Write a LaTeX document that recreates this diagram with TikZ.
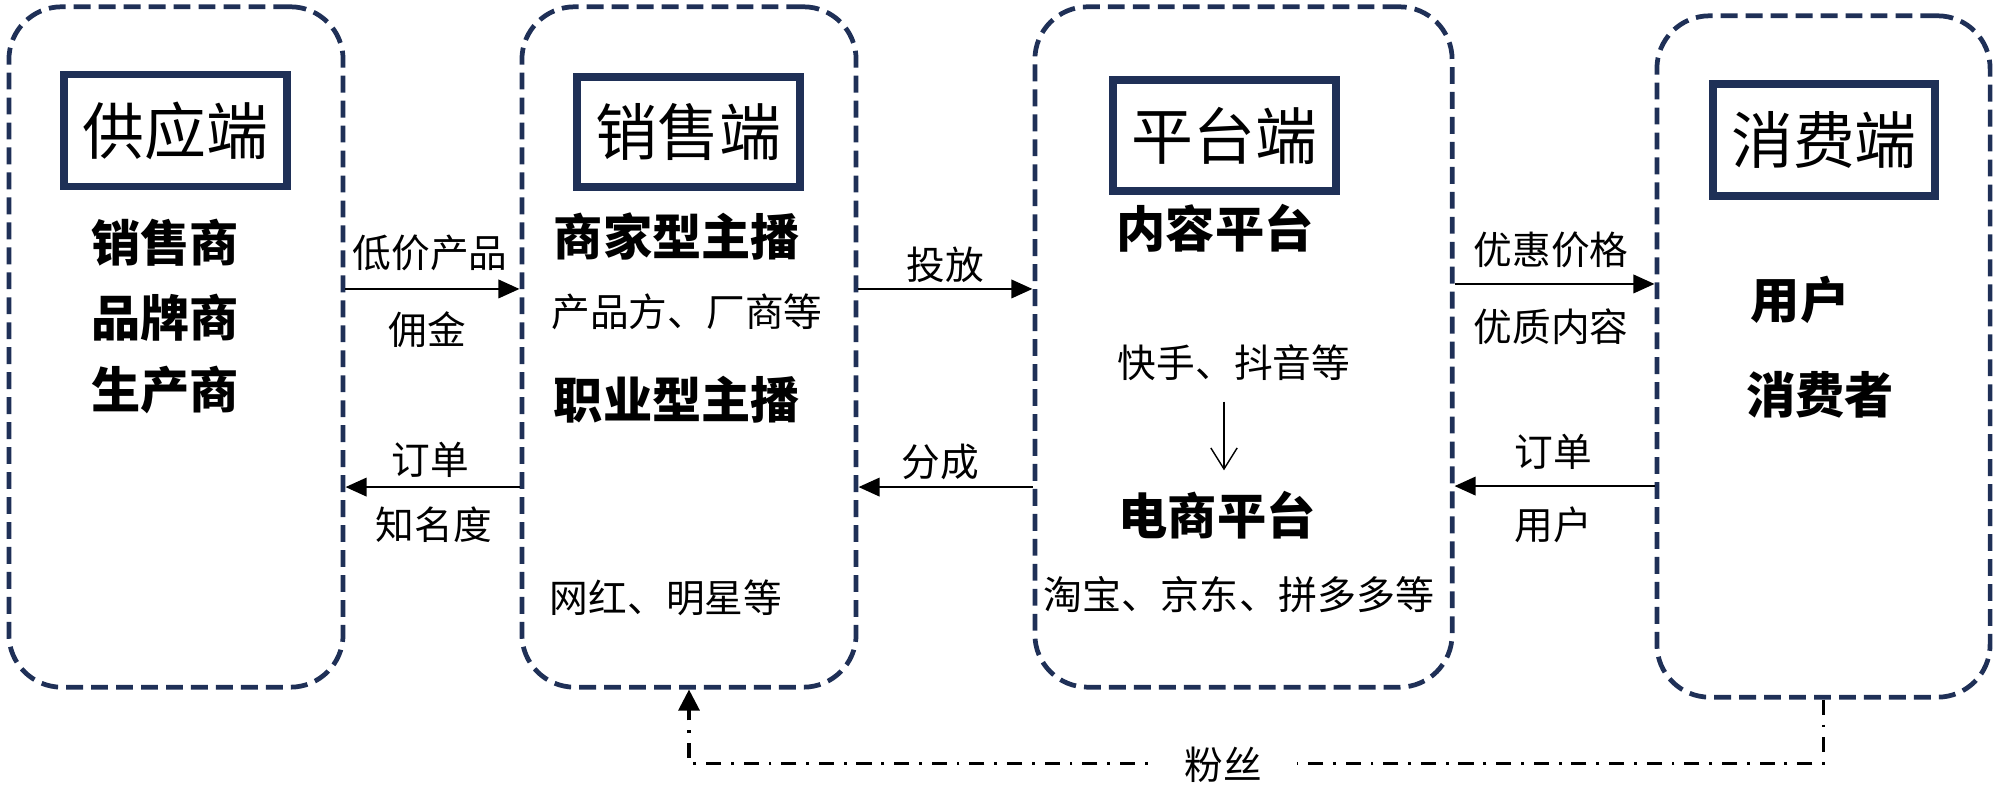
\documentclass[tikz,border=0pt]{standalone}
\usepackage{fontspec}
\setmainfont{Noto Sans CJK SC}
\usetikzlibrary{arrows.meta}
\definecolor{navy}{RGB}{31,48,87}
\tikzset{
  part/.style={draw=navy,line width=1.35pt,dash pattern=on 4.8pt off 2.3pt,rounded corners=15pt,minimum height=6.8cm,inner sep=0pt},
  headbox/.style={draw=navy,line width=2.2pt,minimum width=2.23cm,minimum height=1.12cm,inner sep=0pt,font=\fontsize{17.6}{20}\selectfont},
  item/.style={font=\bfseries\fontsize{14}{16}\selectfont,inner sep=0pt},
  note/.style={font=\fontsize{11}{13}\selectfont,inner sep=0pt},
  flow/.style={-{Triangle[length=6pt,width=5.2pt]},line width=0.8pt},
}
\begin{document}
\begin{tikzpicture}[x=0.01cm,y=-0.01cm]
\useasboundingbox (0,0) rectangle (2000,789);
% four ends
\node[part,minimum width=3.34cm] (supply) at (176,347) {};
\node[part,minimum width=3.34cm] (sale) at (689,347) {};
\node[part,minimum width=4.17cm] (platform) at (1243.5,347) {};
\node[part,minimum width=3.33cm,minimum height=6.81cm] (consume) at (1823.5,356.5) {};
% titles
\node[headbox] (supplyhead) at (175.5,130.5) {供应端};
\node[headbox,minimum height=1.1cm] (salehead) at (688.5,132) {销售端};
\node[headbox,minimum height=1.11cm] (platformhead) at (1224.5,135.5) {平台端};
\node[headbox,minimum width=2.22cm] (consumehead) at (1824,140) {消费端};
% contents
\node[item] (seller) at (165,243) {销售商};
\node[item] (brand) at (165,318) {品牌商};
\node[item] (maker) at (165,390) {生产商};
\node[item] (merchant) at (677,237) {商家型主播};
\node[note] (merchantex) at (687,312) {产品方、厂商等};
\node[item] (pro) at (677,400) {职业型主播};
\node[note] (proex) at (666,598) {网红、明星等};
\node[item] (content) at (1215,228) {内容平台};
\node[note] (contentex) at (1234,363) {快手、抖音等};
\node[item] (ecom) at (1217,515) {电商平台};
\node[note,font=\fontsize{11.1}{13}\selectfont] (ecomex) at (1239,595) {淘宝、京东、拼多多等};
\node[item] (user) at (1800,300) {用户};
\node[item] (buyer) at (1820,395) {消费者};
\draw[line width=0.4pt,-{Straight Barb[length=6pt,width=7.5pt]},shorten <=0.2cm,shorten >=0.2cm]
  ([xshift=-0.1cm]contentex.south) -- ([xshift=-0.1cm]contentex.south |- ecom.north);
% arrows between ends
\draw[flow] ([yshift=0.58cm]supply.east) -- ([yshift=0.58cm]supply.east -| sale.west);
\draw[flow] ([yshift=-1.4cm]sale.west) -- ([yshift=-1.4cm]sale.west -| supply.east);
\draw[flow] ([yshift=0.58cm]sale.east) -- ([yshift=0.58cm]sale.east -| platform.west);
\draw[flow] ([yshift=-1.4cm]platform.west) -- ([yshift=-1.4cm]platform.west -| sale.east);
\draw[flow] ([yshift=0.63cm]platform.east) -- ([yshift=0.63cm]platform.east -| consume.west);
\draw[flow] ([yshift=-1.39cm]platform.east -| consume.west) -- ([yshift=-1.39cm]platform.east);
% labels
\node[note] (lowprice) at (430,253) {低价产品};
\node[note] (commission) at (427,330) {佣金};
\node[note] (order1) at (430,460) {订单};
\node[note] (fame) at (434,525) {知名度};
\node[note] (put) at (945,265) {投放};
\node[note] (share) at (940,462) {分成};
\node[note] (discount) at (1551,250) {优惠价格};
\node[note] (quality) at (1551,327) {优质内容};
\node[note] (order2) at (1553,452) {订单};
\node[note] (users) at (1553,525) {用户};
% fans
\draw[line width=0.9pt,dash pattern=on 4.3pt off 2.8pt on 0.8pt off 2.8pt,-{Triangle[length=6pt,width=6pt]}]
  (consume.south) -- ++(0,64) -| (sale.south);
\node[note,fill=white,inner xsep=0.35cm,inner ysep=2pt] (fans) at (1223,765) {粉丝};
\end{tikzpicture}
\end{document}
